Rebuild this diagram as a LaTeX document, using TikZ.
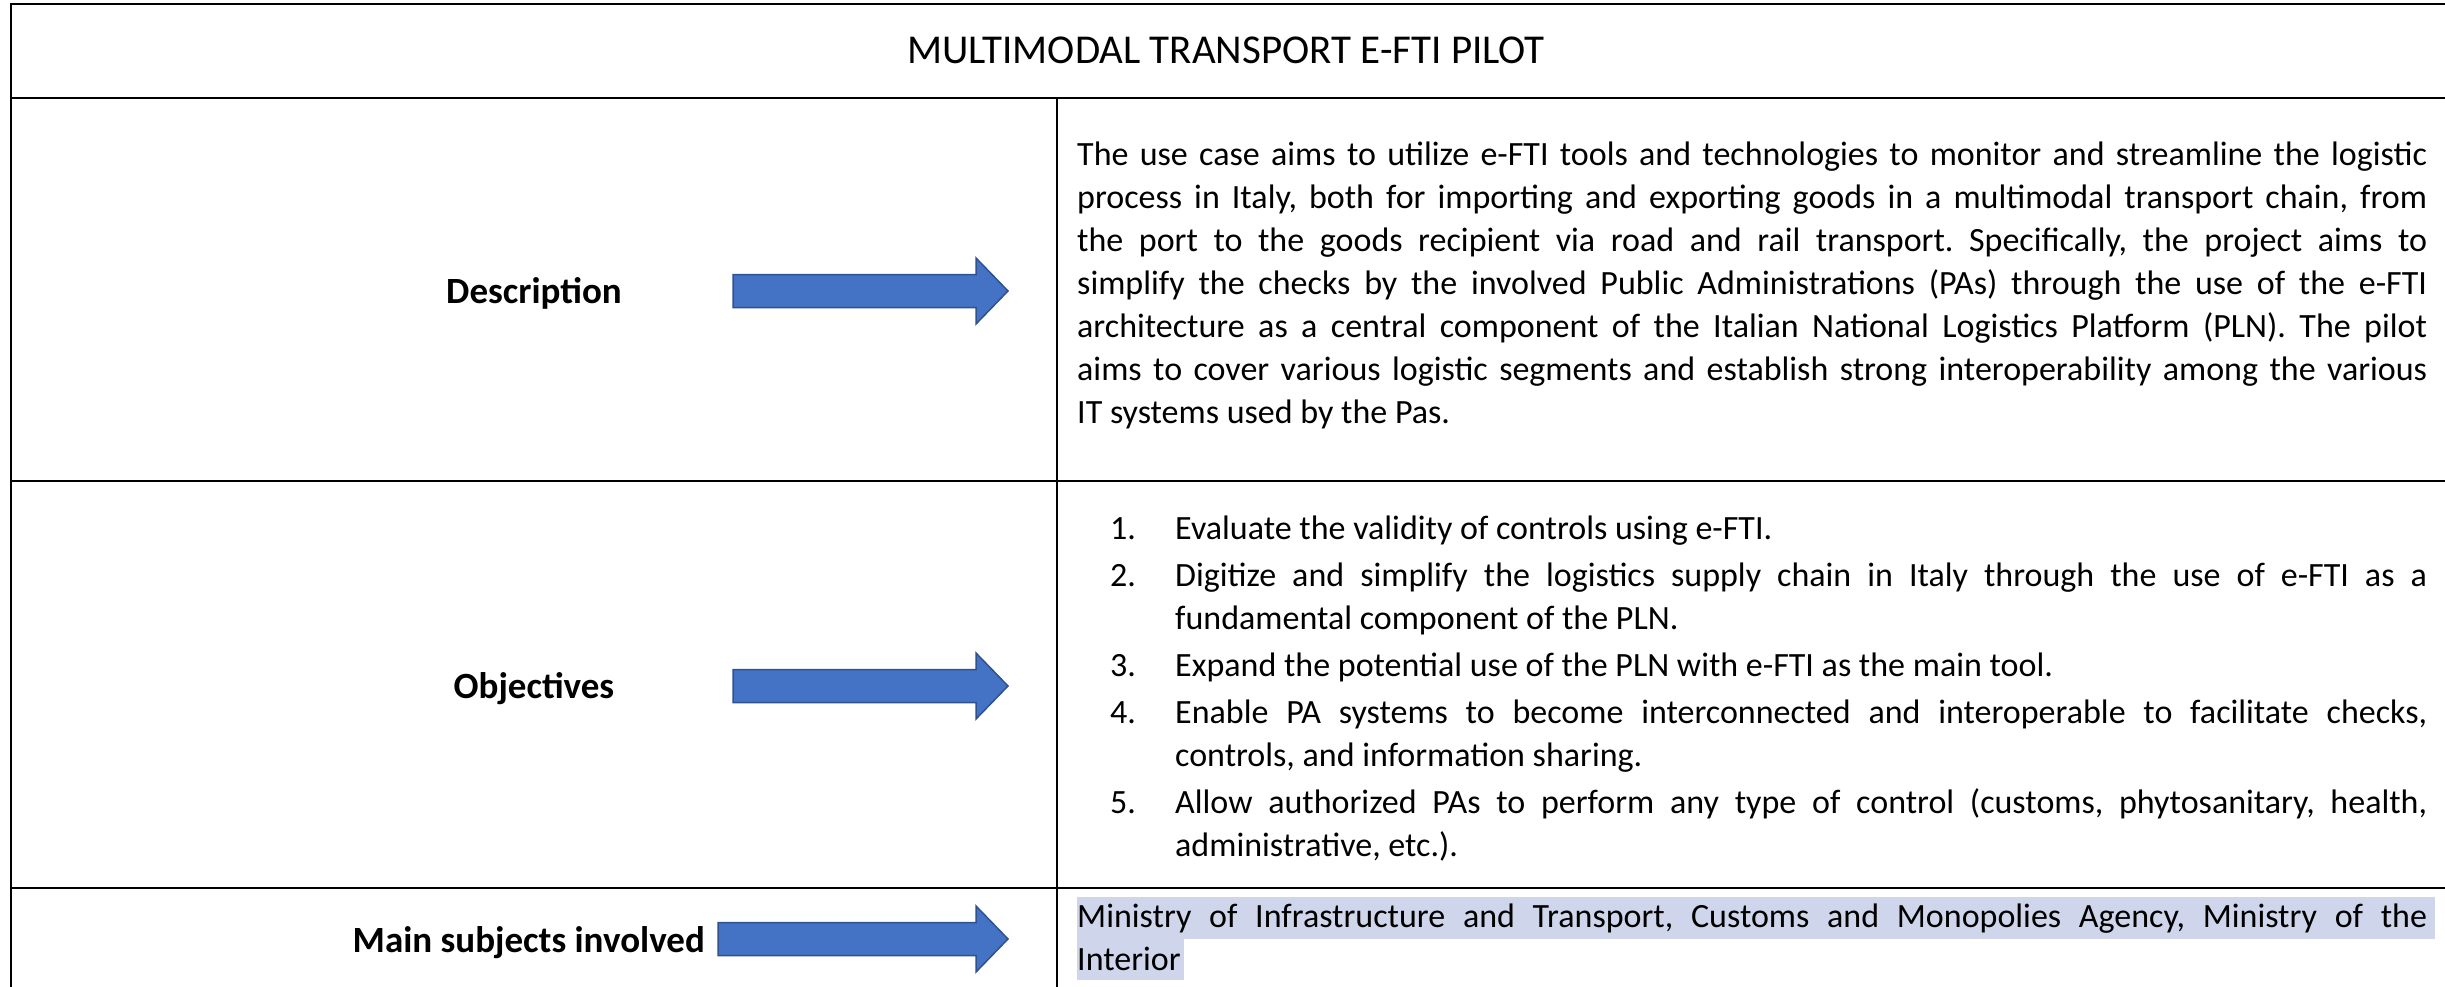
\documentclass[tikz,border=0pt]{standalone}
\usepackage{fontspec}
\setmainfont{Carlito}
\definecolor{arrowblue}{HTML}{4472C4}
\definecolor{arrowedge}{HTML}{2F528F}
\definecolor{marker}{HTML}{CFD5EA}
\hyphenpenalty=10000
\exhyphenpenalty=10000
\frenchspacing
\setlength{\parindent}{0pt}
\begin{document}
\begin{tikzpicture}[x=1pt,y=-1pt,
    tablerule/.style={line width=2.2pt},
    rowlabel/.style={font=\fontsize{37}{44}\selectfont\bfseries, inner sep=0pt, anchor=base},
    bodytext/.style={font=\fontsize{34}{43}\selectfont, inner sep=0pt, anchor=base west, align=justify},
    itemnum/.style={font=\fontsize{34}{43}\selectfont, inner sep=0pt, anchor=base west},
    blockarrow/.pic={\draw[fill=arrowblue, draw=arrowedge, line width=1.5pt]
        (-#1,-16.5) -- (-32,-16.5) -- (-32,-33) -- (0,0) -- (-32,33) -- (-32,16.5) -- (-#1,16.5) -- cycle;}]
    \useasboundingbox (0,0) rectangle (2445,987);

    % table lines
    \draw[tablerule] (11,987) -- (11,4) -- (2445,4);
    \draw[tablerule] (11,98) -- (2445,98);
    \draw[tablerule] (11,481) -- (2445,481);
    \draw[tablerule] (11,888) -- (2445,888);
    \draw[tablerule] (1057,98) -- (1057,987);

    % title
    \node[font=\fontsize{41}{48}\selectfont, inner sep=0pt, anchor=base] (title) at (1226,64) {MULTIMODAL TRANSPORT E-FTI PILOT};

    % description row
    \node[rowlabel] (desc) at (534,303) {Description};
    \pic (descarrow) at (1008,291) {blockarrow=275};
    \node[bodytext, text width=1350pt] (desctext) at (1077,166) {The use case aims to utilize e-FTI tools and technologies to monitor and streamline the logistic\linebreak process in Italy, both for importing and exporting goods in a multimodal transport chain, from\linebreak the port to the goods recipient via road and rail transport. Specifically, the project aims to\linebreak simplify the checks by the involved Public Administrations (PAs) through the use of the e-FTI\linebreak architecture as a central component of the Italian National Logistics Platform (PLN). The pilot\linebreak aims to cover various logistic segments and establish strong interoperability among the various\linebreak IT systems used by the Pas.};

    % objectives row
    \node[rowlabel] (obj) at (534,698) {Objectives};
    \pic (objarrow) at (1008,686) {blockarrow=275};
    \node[itemnum] (num1) at (1110,539) {1.};
    \node[bodytext, text width=1252pt] (obj1) at (1175,539) {Evaluate the validity of controls using e-FTI.};
    \node[itemnum] (num2) at (1110,586) {2.};
    \node[bodytext, text width=1252pt] (obj2) at (1175,586) {Digitize and simplify the logistics supply chain in Italy through the use of e-FTI as a\linebreak fundamental component of the PLN.};
    \node[itemnum] (num3) at (1110,676) {3.};
    \node[bodytext, text width=1252pt] (obj3) at (1175,676) {Expand the potential use of the PLN with e-FTI as the main tool.};
    \node[itemnum] (num4) at (1110,723) {4.};
    \node[bodytext, text width=1252pt] (obj4) at (1175,723) {Enable PA systems to become interconnected and interoperable to facilitate checks,\linebreak controls, and information sharing.};
    \node[itemnum] (num5) at (1110,813) {5.};
    \node[bodytext, text width=1252pt] (obj5) at (1175,813) {Allow authorized PAs to perform any type of control (customs, phytosanitary, health,\linebreak administrative, etc.).};

    % main subjects row
    \node[rowlabel, anchor=base east] (subj) at (705,952) {Main subjects involved};
    \pic (subjarrow) at (1008,939) {blockarrow=290};
    \fill[marker] (1077,897) rectangle (2435,939);
    \fill[marker] (1077,939) rectangle (1184,980);
    \node[bodytext, text width=1350pt] (subjtext) at (1077,927) {Ministry of Infrastructure and Transport, Customs and Monopolies Agency, Ministry of the\linebreak Interior};
\end{tikzpicture}
\end{document}
